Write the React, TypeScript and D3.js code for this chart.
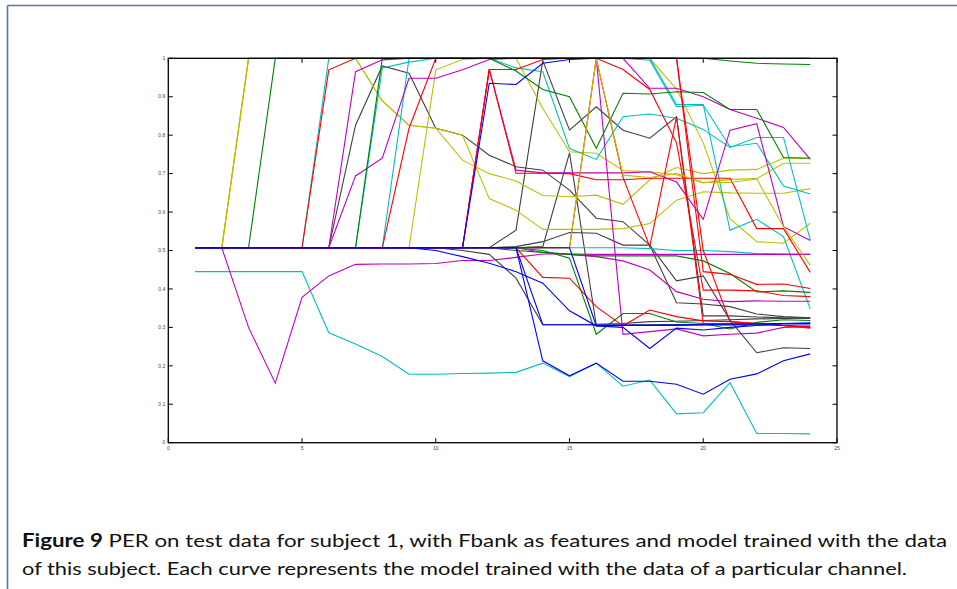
import React from 'react'
import * as d3 from 'd3'

// x positions 1..24, each series is one channel
const epochs = [1, 2, 3, 4, 5, 6, 7, 8, 9, 10, 11, 12, 13, 14, 15, 16, 17, 18, 19, 20, 21, 22, 23, 24]
const xTicks = [0, 5, 10, 15, 20, 25]
const yTicks = [0, 0.1, 0.2, 0.3, 0.4, 0.5, 0.6, 0.7, 0.8, 0.9, 1]
const B = 0.507

const green1 = [B, B, B, 1, 1, 1, 1, 1, 1, 1, 1, 1, 1, 1, 1, 1, 1, 1, 1, 1, 0.993, 0.987, 0.985, 0.984]
const yellow1 = [B, B, 1, 1, 1, 1, 1, 0.889, 0.826, 0.818, 0.735, 0.7, 0.681, 0.643, 0.64, 0.644, 0.62, 0.684, 0.716, 0.7, 0.709, 0.711, 0.74, 0.74]
const yellow5 = [B, B, 1, 1, 1, 1, 1, 0.889, 0.826, 0.818, 0.8, 0.635, 0.605, 0.555, 0.555, 0.555, 0.557, 0.57, 0.631, 0.653, 0.65, 0.649, 0.649, 0.661]
const yellow7 = [B, B, 1, 1, 1, 1, 1, 1, 1, 1, 1, 1, 1, 0.87, 0.757, 0.753, 0.708, 0.705, 0.697, 0.676, 0.685, 0.687, 0.727, 0.727]
const red1 = [B, B, B, B, B, 0.97, 1, 1, 1, 1, 1, 1, 1, 1, 1, 1, 0.971, 0.919, 0.78, 0.397, 0.397, 0.395, 0.383, 0.38]
const cyanA = [B, B, B, B, B, 1, 1, 1, 1, 1, 1, 1, 0.975, 0.965, 0.765, 0.737, 0.848, 0.855, 0.844, 0.815, 0.768, 0.794, 0.794, 0.527]
const magenta1 = [B, B, B, B, B, B, 0.965, 0.996, 1, 1, 1, 1, 1, 1, 1, 1, 1, 0.922, 0.922, 0.9, 0.867, 0.844, 0.82, 0.737]
const black1 = [B, B, B, B, B, B, 0.826, 0.98, 0.961, 0.818, 0.8, 0.748, 0.718, 0.709, 0.657, 0.584, 0.575, 0.514, 0.421, 0.434, 0.319, 0.234, 0.247, 0.245]
const green2 = [B, B, B, B, B, B, B, 1, 1, 1, 1, 1, 0.967, 0.919, 0.9, 0.766, 0.909, 0.907, 0.913, 0.911, 0.867, 0.867, 0.742, 0.74]
const cyanB = [B, B, B, B, B, B, B, 0.975, 0.99, 1, 1, 1, 1, 1, 1, 1, 1, 0.995, 0.874, 0.878, 0.77, 0.779, 0.668, 0.647]
const magenta2 = [B, B, B, B, B, B, 0.694, 0.74, 0.948, 0.948, 0.97, 0.997, 1, 1, 1, 1, 0.282, 0.289, 0.296, 0.278, 0.282, 0.285, 0.3, 0.302]
const yellow2 = [B, B, B, B, B, B, B, B, B, 0.97, 0.997, 1, 1, 1, 1, 1, 1, 1, 0.92, 0.78, 0.583, 0.523, 0.519, 0.571]
const red2 = [B, B, B, B, B, B, B, B, B, B, B, 0.971, 0.701, 0.701, 0.7, 0.684, 0.684, 0.688, 0.688, 0.688, 0.688, 0.557, 0.557, 0.443]
const red3 = [B, B, B, B, B, B, B, B, B, B, B, 0.971, 0.971, 0.997, 1, 1, 1, 1, 1, 0.445, 0.438, 0.412, 0.413, 0.401]
const magenta3 = [B, B, B, B, B, B, B, B, B, B, B, 0.971, 0.709, 0.702, 0.702, 0.702, 0.702, 0.705, 0.678, 0.581, 0.813, 0.83, 0.562, 0.526]
const cyanC = [B, B, B, B, B, B, B, B, 1, 1, 1, 1, 1, 1, 1, 1, 1, 1, 0.88, 0.88, 0.553, 0.581, 0.536, 0.348]
const red4 = [B, B, B, B, B, B, B, B, 0.818, 1, 1, 1, 1, 1, 1, 1, 1, 1, 1, 0.5, 0.315, 0.31, 0.305, 0.3]
const black2 = [B, B, B, B, B, B, B, B, B, B, B, B, 0.553, 0.994, 0.813, 0.874, 0.813, 0.792, 0.848, 0.33, 0.33, 0.327, 0.325, 0.324]
const black3 = [B, B, B, B, B, B, B, B, B, B, B, B, B, 0.51, 0.754, 0.306, 0.306, 0.307, 0.307, 0.308, 0.308, 0.309, 0.31, 0.31]
const black4 = [B, B, B, B, B, B, B, B, B, B, 0.5, 0.49, 0.428, 0.307, 0.307, 0.308, 0.31, 0.315, 0.316, 0.318, 0.32, 0.322, 0.323, 0.324]
const black5 = [B, B, B, B, B, B, B, B, B, B, B, B, 0.51, 0.523, 0.547, 0.545, 0.514, 0.514, 0.364, 0.361, 0.354, 0.335, 0.328, 0.325]
const yellow3 = [B, B, B, B, B, B, B, B, B, B, B, B, B, B, B, 1, 0.696, 0.69, 0.7, 0.677, 0.677, 0.686, 0.562, 0.462]
const red5 = [B, B, B, B, B, B, B, B, B, B, B, B, B, B, B, 1, 0.69, 0.51, 0.848, 0.31, 0.31, 0.31, 0.305, 0.3]
const magenta4 = [B, B, 0.3, 0.155, 0.378, 0.434, 0.464, 0.465, 0.465, 0.466, 0.474, 0.474, 0.482, 0.491, 0.491, 0.49, 0.49, 0.49, 0.49, 0.49, 0.49, 0.49, 0.49, 0.49]
const magenta5 = [B, B, B, B, B, B, B, B, B, B, B, B, B, 0.495, 0.49, 0.484, 0.473, 0.449, 0.393, 0.373, 0.367, 0.369, 0.368, 0.368]
const cyanD = [0.445, 0.445, 0.445, 0.445, 0.445, 0.286, 0.257, 0.224, 0.178, 0.178, 0.18, 0.181, 0.183, 0.207, 0.172, 0.207, 0.147, 0.163, 0.075, 0.078, 0.156, 0.024, 0.024, 0.023]
const green3 = [B, B, B, B, B, B, B, B, B, B, B, B, B, 0.5, 0.48, 0.282, 0.336, 0.336, 0.314, 0.31, 0.296, 0.313, 0.32, 0.318]
const green4 = [B, B, B, B, B, B, B, B, B, B, B, B, 0.5, 0.495, 0.49, 0.486, 0.486, 0.486, 0.486, 0.473, 0.44, 0.392, 0.395, 0.391]
const cyanE = [B, B, B, B, B, B, B, B, B, B, B, B, B, B, B, 0.507, 0.507, 0.505, 0.5, 0.5, 0.497, 0.492, 0.491, 0.49]
const red6 = [B, B, B, B, B, B, B, B, B, B, B, B, B, 0.43, 0.428, 0.354, 0.304, 0.345, 0.328, 0.317, 0.315, 0.31, 0.305, 0.298]
const blueLow = [B, B, B, B, B, B, B, B, B, B, B, B, B, 0.213, 0.174, 0.207, 0.16, 0.16, 0.152, 0.126, 0.165, 0.179, 0.213, 0.231]
const blue2 = [B, B, B, B, B, B, B, B, B, 0.5, 0.484, 0.467, 0.445, 0.415, 0.343, 0.304, 0.3, 0.245, 0.298, 0.293, 0.3, 0.305, 0.31, 0.312]
const blue3 = [B, B, B, B, B, B, B, B, B, B, B, B, B, B, B, 0.304, 0.305, 0.305, 0.305, 0.306, 0.306, 0.306, 0.306, 0.306]
const blue4 = [B, B, B, B, B, B, B, B, B, B, B, B, B, 0.307, 0.307, 0.306, 0.306, 0.306, 0.307, 0.307, 0.308, 0.309, 0.31, 0.31]
const blueTop = [B, B, B, B, B, B, B, B, B, B, B, 0.935, 0.932, 0.987, 0.997, 1, 1, 1, 1, 1, 1, 1, 1, 1]

const C = {
  b: '#0000ff',
  g: '#008000',
  r: '#ff0000',
  c: '#00bfbf',
  m: '#bf00bf',
  y: '#bfbf00',
  k: '#404040',
}

const series = [
  { color: C.k, values: black1 },
  { color: C.k, values: black2 },
  { color: C.k, values: black3 },
  { color: C.k, values: black4 },
  { color: C.k, values: black5 },
  { color: C.y, values: yellow1 },
  { color: C.y, values: yellow5 },
  { color: C.y, values: yellow7 },
  { color: C.y, values: yellow2 },
  { color: C.c, values: cyanA },
  { color: C.c, values: cyanB },
  { color: C.c, values: cyanC },
  { color: C.c, values: cyanD },
  { color: C.c, values: cyanE },
  { color: C.m, values: magenta1 },
  { color: C.m, values: magenta2 },
  { color: C.m, values: magenta3 },
  { color: C.m, values: magenta4 },
  { color: C.m, values: magenta5 },
  { color: C.g, values: green2 },
  { color: C.g, values: green3 },
  { color: C.g, values: green4 },
  { color: C.r, values: red1 },
  { color: C.r, values: red2 },
  { color: C.r, values: red4 },
  { color: C.r, values: red5 },
  { color: C.r, values: red6 },
  { color: C.y, values: yellow3 },
  { color: C.r, values: red3 },
  { color: C.g, values: green1 },
  { color: C.b, values: blueLow },
  { color: C.b, values: blue2 },
  { color: C.b, values: blue3 },
  { color: C.b, values: blue4 },
  { color: C.b, values: blueTop },
]

const App = () => {
  const left = 168.3
  const right = 837
  const top = 58.3
  const bottom = 442.7
  const xScale = d3.scaleLinear().domain([0, 25]).range([left, right])
  const yScale = d3.scaleLinear().domain([0, 1]).range([bottom, top])

  const line = d3
    .line<number>()
    .x((d, i) => xScale(epochs[i]))
    .y((d) => yScale(d))

  const tickLen = 4.5
  const frame = '#5577a3'

  return (
    <svg
      width={957}
      height={589}
      style={{ position: 'absolute', left: 0, top: 0, background: '#fff' }}
    >
      <rect x={0} y={0} width={957} height={589} fill="#fff" />
      {/* page frame */}
      <line x1={7.5} y1={5.5} x2={957} y2={5.5} stroke={frame} strokeWidth={1.6} />
      <line x1={7.5} y1={5.5} x2={7.5} y2={589} stroke={frame} strokeWidth={1.6} />

      <g>
        {series.map((s, i) => (
          <path
            key={i}
            d={line(s.values)}
            fill="none"
            stroke={s.color}
            strokeWidth={1.1}
            strokeLinejoin="miter"
          />
        ))}
      </g>

      {/* axes box and ticks */}
      <rect
        x={left}
        y={top}
        width={right - left}
        height={bottom - top}
        fill="none"
        stroke="#000"
        strokeWidth={1.3}
      />
      {xTicks.map((t) => (
        <g key={'x' + t}>
          <line x1={xScale(t)} x2={xScale(t)} y1={bottom} y2={bottom - tickLen} stroke="#000" strokeWidth={1} />
          <line x1={xScale(t)} x2={xScale(t)} y1={top} y2={top + tickLen} stroke="#000" strokeWidth={1} />
          <text
            x={xScale(t)}
            y={bottom + 7.5}
            fontSize={5}
            fontFamily="Liberation Sans, Arial, sans-serif"
            textAnchor="middle"
            fill="#444"
          >
            {t}
          </text>
        </g>
      ))}
      {yTicks.map((t) => (
        <g key={'y' + t}>
          <line x1={left} x2={left + tickLen} y1={yScale(t)} y2={yScale(t)} stroke="#000" strokeWidth={1} />
          <line x1={right} x2={right - tickLen} y1={yScale(t)} y2={yScale(t)} stroke="#000" strokeWidth={1} />
          <text
            x={left - 3}
            y={yScale(t) + 1.7}
            fontSize={5}
            fontFamily="Liberation Sans, Arial, sans-serif"
            textAnchor="end"
            fill="#444"
          >
            {t}
          </text>
        </g>
      ))}

      {/* caption */}
      <text
        x={22}
        y={547}
        fontSize={18}
        fontFamily="Lato, Liberation Sans, sans-serif"
        fill="#111"
        textLength={925}
        lengthAdjust="spacingAndGlyphs"
      >
        <tspan fontWeight="bold">Figure 9</tspan>
        <tspan> PER on test data for subject 1, with Fbank as features and model trained with the data</tspan>
      </text>
      <text
        x={22}
        y={575}
        fontSize={18}
        fontFamily="Lato, Liberation Sans, sans-serif"
        fill="#111"
        textLength={885}
        lengthAdjust="spacingAndGlyphs"
      >
        of this subject. Each curve represents the model trained with the data of a particular channel.
      </text>
    </svg>
  )
}

export default App
